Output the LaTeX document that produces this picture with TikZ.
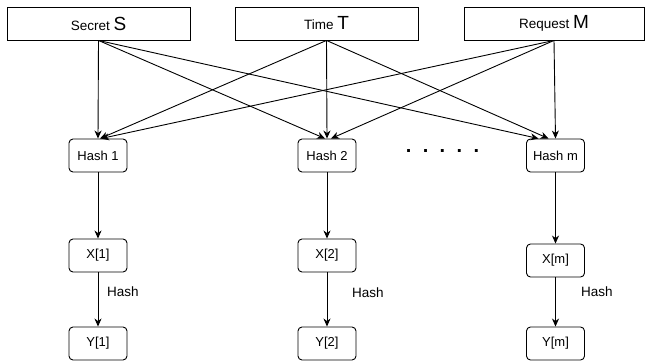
\documentclass[tikz,border=0pt]{standalone}
\usepackage{fontspec}
\setmainfont{Liberation Sans}
\usetikzlibrary{arrows.meta}
\begin{document}
\begin{tikzpicture}[x=1pt,y=-1pt,
  topbox/.style={draw=black,line width=0.9pt,minimum width=183pt,minimum height=33pt,inner sep=0pt,font=\fontsize{13.5}{15}\selectfont},
  rbox/.style={draw=black,line width=0.9pt,rounded corners=4pt,minimum width=58pt,minimum height=33pt,inner sep=0pt,font=\fontsize{13}{15}\selectfont},
  conn/.style={draw=black,line width=0.9pt,-{Stealth[length=8pt,width=7pt,inset=2.5pt]}},
  lbl/.style={anchor=west,inner sep=0pt,font=\fontsize{13.5}{15}\selectfont}]
\useasboundingbox (0,0) rectangle (645,363);
\node[topbox] (S) at (98.5,23.5) {Secret \fontsize{19}{22}\selectfont S};
\node[topbox] (T) at (326.5,23.5) {Time \fontsize{19}{22}\selectfont T};
\node[topbox,minimum width=180pt] (M) at (554,23.5) {Request \fontsize{19}{22}\selectfont M};
\node[rbox] (H1) at (98,155.5) {Hash 1};
\node[rbox] (H2) at (327,155.5) {Hash 2};
\node[rbox] (Hm) at (555.5,155.5) {Hash m};
\node[rbox] (X1) at (98,255.5) {X[1]};
\node[rbox] (X2) at (327,255.5) {X[2]};
\node[rbox] (Xm) at (555.5,260.5) {X[m]};
\node[rbox] (Y1) at (98,343.5) {Y[1]};
\node[rbox] (Y2) at (327,343.5) {Y[2]};
\node[rbox] (Ym) at (555.5,343.5) {Y[m]};
\node[anchor=base,inner sep=0pt,font=\fontsize{20}{22}\bfseries\selectfont] (dots) at (442.5,153) {.\hspace{11.4pt}.\hspace{11.4pt}.\hspace{11.4pt}.\hspace{11.4pt}.};
% top connectors
\draw[conn] (S.south) -- (H1.north);
\draw[conn] (T.south) -- ([xshift=2pt]H1.north);
\draw[conn] (M.south) -- ([xshift=3pt]H1.north);
\draw[conn] (S.south) -- ([xshift=-2pt]H2.north);
\draw[conn] (T.south) -- (H2.north);
\draw[conn] (M.south) -- ([xshift=4pt]H2.north);
\draw[conn] (S.south) -- ([xshift=-17pt]Hm.north);
\draw[conn] (T.south) -- ([xshift=-7pt]Hm.north);
\draw[conn] (M.south) -- (Hm.north);
% vertical chains
\draw[conn] (H1) -- (X1);
\draw[conn] (H2) -- (X2);
\draw[conn] (Hm) -- (Xm);
\draw[conn] (X1) -- (Y1);
\draw[conn] (X2) -- (Y2);
\draw[conn] (Xm) -- (Ym);
\node[lbl] (L1) at (107,292) {Hash};
\node[lbl] (L2) at (352,293) {Hash};
\node[lbl] (Lm) at (581,292) {Hash};
\end{tikzpicture}
\end{document}
